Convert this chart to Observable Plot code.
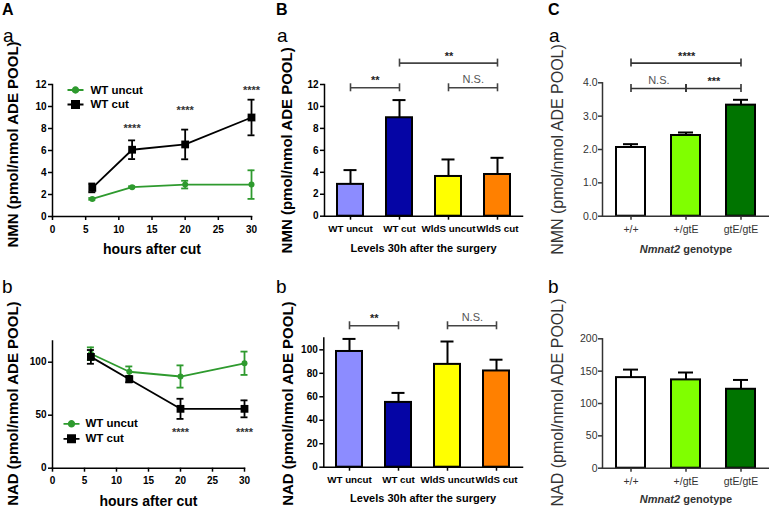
<!DOCTYPE html>
<html><head><meta charset="utf-8">
<script src="https://cdn.jsdelivr.net/npm/d3@7"></script>
<script src="https://cdn.jsdelivr.net/npm/@observablehq/plot@0.6"></script>
<style>
html,body{margin:0;padding:0;background:#fff;}
#fig{position:relative;width:769px;height:508px;overflow:hidden;background:#fff;}
#fig svg{position:absolute;overflow:visible;background:transparent;}
</style></head>
<body><div id="fig"></div>
<script>
// ---------------- DATA ----------------
const seriesNames = ["WT uncut", "WT cut"];
const hours = [6, 12, 20, 30];
const nmnUncut = [1.6, 2.67, 2.9, 2.9];
const nmnUncutErr = [0.08, 0.08, 0.35, 1.3];
const nmnCut = [2.6, 6.07, 6.55, 9.0];
const nmnCutErr = [0.4, 0.85, 1.35, 1.62];
const nadUncut = [108, 91, 86.5, 99];
const nadUncutErr = [6, 5, 10.5, 11];
const nadCut = [105, 84, 56, 56];
const nadCutErr = [6.5, 3, 9.5, 8];
const hourTicks = [0, 5, 10, 15, 20, 25, 30];
const nmnTicksA = [0, 2, 4, 6, 8, 10, 12];
const nadTicksA = [0, 50, 100];
const starHoursNmn = [12, 20, 30];
const starValuesNmn = [8.0, 9.6, 11.5];
const starHoursNad = [20, 30];
const starValuesNad = [34, 34];
const starLabel = "****";

const groupsB = ["WT uncut", "WT cut", "WldS uncut", "WldS cut"];
const nmnB = [2.9, 8.97, 3.62, 3.8];
const nmnBErr = [1.3, 1.61, 1.55, 1.52];
const nadB = [98.6, 55.2, 87.6, 82];
const nadBErr = [10.7, 8.1, 19.5, 9.6];
const nmnTicksB = [0, 2, 4, 6, 8, 10, 12];
const nadTicksB = [0, 20, 40, 60, 80, 100];
const bracketsNmnB = [
  {a: "WT uncut", b: "WT cut", y: 11.7, label: "**"},
  {a: "WT cut", b: "WldS cut", y: 13.95, label: "**"},
  {a: "WldS uncut", b: "WldS cut", y: 11.7, label: "N.S."}
];
const bracketsNadB = [
  {a: "WT uncut", b: "WT cut", y: 120.5, label: "**"},
  {a: "WldS uncut", b: "WldS cut", y: 120.5, label: "N.S."}
];

const genotypes = ["+/+", "+/gtE", "gtE/gtE"];
const nmnC = [2.06, 2.42, 3.33];
const nmnCErr = [0.1, 0.09, 0.16];
const nadC = [140, 136.5, 122];
const nadCErr = [12.4, 11.4, 14.4];
const nmnTicksC = [0, 1, 2, 3, 4];
const nadTicksC = [0, 50, 100, 150, 200];
const bracketsNmnC = [
  {a: "+/+", b: "gtE/gtE", y: 4.59, label: "****"},
  {a: "+/+", b: "+/gtE", y: 3.83, label: "N.S."},
  {a: "+/gtE", b: "gtE/gtE", y: 3.83, label: "***"}
];
const bracketsNadC = [];

const yTitleNMN = "NMN (pmol/nmol ADE POOL)";
const yTitleNAD = "NAD (pmol/nmol ADE POOL)";
const xTitleA = "hours after cut";
const xTitleB = "Levels 30h after the surgery";
const xTitleCgene = "Nmnat2";
const xTitleCrest = "genotype";
const panelLetters = ["A", "B", "C"];
const subLetters = ["a", "b"];

// ---------------- STYLE ----------------
const FONT = '"Liberation Sans", Arial, Helvetica, sans-serif';
const GREEN = "#2e9a2e";
const BLACK = "#000";
const paletteB = ["#8c8cff", "#0505a5", "#ffff00", "#ff8000"];
const paletteC = ["#ffffff", "#80ff00", "#007400"];
const fig = document.getElementById("fig");

function place(el, left, top) {
  el.style.position = "absolute";
  el.style.left = left + "px";
  el.style.top = top + "px";
  el.style.overflow = "visible";
  el.style.background = "transparent";
  el.style.maxWidth = "none";
  fig.appendChild(el);
}

const lineCircle = {draw(ctx) { ctx.moveTo(-8, 0); ctx.lineTo(8, 0); ctx.moveTo(2.8, 0); ctx.arc(0, 0, 2.8, 0, 2 * Math.PI); ctx.closePath(); }};
const lineSquare = {draw(ctx) { ctx.moveTo(-8, 0); ctx.lineTo(8, 0); ctx.moveTo(-3.6, -3.6); ctx.lineTo(3.6, -3.6); ctx.lineTo(3.6, 3.6); ctx.lineTo(-3.6, 3.6); ctx.closePath(); }};

const yTitleMark = (t, dx, dy, size) =>
  Plot.text([t], {text: d => d, frameAnchor: "left", textAnchor: "middle", lineAnchor: "middle", rotate: -90, dx, dy, fontSize: size});

// ---------------- LINE PANELS (A) ----------------
function linePanel(o) {
  const rows = (vals, errs, s) => hours.map((h, i) => ({s, h, v: vals[i], e: errs[i]}));
  const un = rows(o.uncut, o.uncutErr, seriesNames[0]);
  const cu = rows(o.cut, o.cutErr, seriesNames[1]);
  const stars = o.starX.map((h, i) => ({h, y: o.starY[i]}));
  const errMarks = (d, c) => [
    Plot.ruleX(d, {x: "h", y1: r => r.v - r.e, y2: r => r.v + r.e, stroke: c, strokeWidth: 1.8}),
    Plot.ruleY(d, {y: r => r.v + r.e, x1: "h", x2: "h", insetLeft: -3.5, insetRight: -3.5, stroke: c, strokeWidth: 1.8}),
    Plot.ruleY(d, {y: r => r.v - r.e, x1: "h", x2: "h", insetLeft: -3.5, insetRight: -3.5, stroke: c, strokeWidth: 1.8})
  ];
  return Plot.plot({
    width: 260, height: 254,
    marginLeft: 52, marginRight: o.marginRight, marginTop: o.marginTop, marginBottom: o.marginBottom,
    style: {fontFamily: FONT, fontSize: "10px", fontWeight: "bold", color: "#000", background: "transparent", overflow: "visible"},
    x: {domain: [0, 30]},
    y: {domain: o.yDomain},
    marks: [
      Plot.frame({anchor: "left", strokeWidth: 1.5}),
      Plot.frame({anchor: "bottom", strokeWidth: 1.5}),
      Plot.axisX({ticks: hourTicks, tickSize: 4, tickPadding: 5, strokeWidth: 1.5, label: null}),
      Plot.axisY({ticks: o.yTicks, tickSize: 4, tickPadding: 2, strokeWidth: 1.5, label: null}),
      Plot.line(un, {x: "h", y: "v", stroke: GREEN, strokeWidth: 1.8}),
      ...errMarks(un, GREEN),
      Plot.dot(un, {x: "h", y: "v", r: 3, fill: GREEN}),
      Plot.line(cu, {x: "h", y: "v", stroke: BLACK, strokeWidth: 1.8}),
      ...errMarks(cu, BLACK),
      Plot.dot(cu, {x: "h", y: "v", symbol: "square", r: 4.4, fill: BLACK}),
      Plot.text(stars, {x: "h", y: "y", text: () => starLabel, fontSize: 11, fill: "#333"}),
      Plot.dot([seriesNames[0]], {frameAnchor: o.lgAnchor, dx: o.lgDx, dy: o.lgDy[0], symbol: lineCircle, fill: GREEN, stroke: GREEN, strokeWidth: 1.8}),
      Plot.dot([seriesNames[1]], {frameAnchor: o.lgAnchor, dx: o.lgDx, dy: o.lgDy[1], symbol: lineSquare, fill: BLACK, stroke: BLACK, strokeWidth: 1.8}),
      Plot.text([seriesNames[0]], {text: d => d, frameAnchor: o.lgAnchor, dx: o.lgTextDx, dy: o.lgDy[0], textAnchor: "start", lineAnchor: "middle", fontSize: 11.5}),
      Plot.text([seriesNames[1]], {text: d => d, frameAnchor: o.lgAnchor, dx: o.lgTextDx, dy: o.lgDy[1], textAnchor: "start", lineAnchor: "middle", fontSize: 11.5}),
      yTitleMark(o.yTitle, -39, o.yTitleDy, 15),
      Plot.text([xTitleA], {text: d => d, frameAnchor: "bottom", textAnchor: "middle", lineAnchor: "middle", dy: 33, fontSize: 14})
    ]
  });
}

place(linePanel({
  uncut: nmnUncut, uncutErr: nmnUncutErr, cut: nmnCut, cutErr: nmnCutErr,
  yDomain: [0, 12], yTicks: nmnTicksA, starX: starHoursNmn, starY: starValuesNmn,
  marginRight: 9, marginTop: 84, marginBottom: 38,
  lgAnchor: "top-left", lgDx: 23, lgDy: [5.5, 20], lgTextDx: 38,
  yTitle: yTitleNMN, yTitleDy: -6
}), 0, 0);

place(linePanel({
  uncut: nadUncut, uncutErr: nadUncutErr, cut: nadCut, cutErr: nadCutErr,
  yDomain: [0, 120], yTicks: nadTicksA, starX: starHoursNad, starY: starValuesNad,
  marginRight: 16, marginTop: 86.5, marginBottom: 40.3,
  lgAnchor: "bottom-left", lgDx: 19, lgDy: [-44.4, -29.4], lgTextDx: 33,
  yTitle: yTitleNAD, yTitleDy: -1
}), 0, 254);

// ---------------- BAR PANELS (B, C) ----------------
function barPanel(o) {
  const data = o.groups.map((g, i) => ({g, v: o.values[i], e: o.errs[i]}));
  const xOpts = {type: "band", domain: o.groups, paddingInner: o.pad, paddingOuter: o.pad / 2, align: 0.5};
  const sx = Plot.scale({x: {...xOpts, range: [o.marginLeft, o.width - o.marginRight]}});
  const bracketMarks = o.brackets.length ? [
    Plot.link(o.brackets, {x1: "a", x2: "b", y1: "y", y2: "y", stroke: o.bracketColor, strokeWidth: 1.6}),
    Plot.ruleX(o.brackets, {x: "a", y1: "y", y2: "y", insetTop: -4, insetBottom: -4, stroke: o.bracketColor, strokeWidth: 1.6}),
    Plot.ruleX(o.brackets, {x: "b", y1: "y", y2: "y", insetTop: -4, insetBottom: -4, stroke: o.bracketColor, strokeWidth: 1.6}),
    ...o.brackets.map(d => Plot.text([d], {
      x: "a", y: "y", text: "label", textAnchor: "middle", lineAnchor: "middle",
      dx: (sx.apply(d.b) - sx.apply(d.a)) / 2, dy: d.label === "N.S." ? -8 : -7,
      fontSize: 11,
      fontWeight: d.label === "N.S." ? "normal" : "bold",
      fill: d.label === "N.S." ? "#555" : "#222"
    }))
  ] : [];
  return Plot.plot({
    width: o.width, height: 254,
    marginLeft: o.marginLeft, marginRight: o.marginRight, marginTop: o.marginTop, marginBottom: o.marginBottom,
    style: {fontFamily: FONT, fontSize: o.tickFont + "px", fontWeight: o.bold ? "bold" : "normal", color: o.ink, background: "transparent", overflow: "visible"},
    x: xOpts,
    y: {domain: o.yDomain},
    color: {domain: o.groups, range: o.palette},
    marks: [
      Plot.barY(data, {x: "g", y: "v", fill: "g", stroke: "#000", strokeWidth: 2}),
      Plot.ruleX(data, {x: "g", y1: "v", y2: d => d.v + d.e, stroke: "#000", strokeWidth: 2}),
      Plot.tickY(data, {x: "g", y: d => d.v + d.e, insetLeft: o.capInset, insetRight: o.capInset, stroke: "#000", strokeWidth: 2}),
      Plot.frame({anchor: "left", strokeWidth: 1.5}),
      Plot.frame({anchor: "bottom", strokeWidth: 1.5}),
      Plot.axisX({tickSize: 4, tickPadding: 5, strokeWidth: 1.5, label: null, fontSize: o.xTickFont}),
      Plot.axisY({ticks: o.yTicks, tickSize: 4, tickPadding: o.yPad, strokeWidth: 1.5, label: null, tickFormat: o.yFormat}),
      ...bracketMarks,
      yTitleMark(o.yTitle, o.yTitleDx, o.yTitleDy, o.yTitleSize),
      ...o.xTitleMarks
    ]
  });
}

const xTitleBMarks = dy => [Plot.text([xTitleB], {text: d => d, frameAnchor: "bottom", textAnchor: "middle", lineAnchor: "middle", dy, fontSize: 11, fontWeight: "bold"})];
const xTitleCMarks = dy => [
  Plot.text([xTitleCgene], {text: d => d, frameAnchor: "bottom", lineAnchor: "middle", dy, dx: -5.9, textAnchor: "end", fontSize: 11, fontWeight: "bold", fontStyle: "italic"}),
  Plot.text([xTitleCrest], {text: d => d, frameAnchor: "bottom", lineAnchor: "middle", dy, dx: -2.8, textAnchor: "start", fontSize: 11, fontWeight: "bold"})
];

place(barPanel({
  groups: groupsB, values: nmnB, errs: nmnBErr, palette: paletteB, pad: 0.475,
  yDomain: [0, 12], yTicks: nmnTicksB, brackets: bracketsNmnB, bracketColor: "#444",
  width: 268, marginLeft: 62, marginRight: 8, marginTop: 84, marginBottom: 38.3,
  capInset: 6.5, tickFont: 10, xTickFont: 9.8, bold: true, ink: "#000", yPad: 2,
  yTitle: yTitleNMN, yTitleDx: -37, yTitleDy: 0, yTitleSize: 15,
  xTitleMarks: xTitleBMarks(32.6)
}), 262, 0);

place(barPanel({
  groups: groupsB, values: nadB, errs: nadBErr, palette: paletteB, pad: 0.475,
  yDomain: [0, 110], yTicks: nadTicksB, brackets: bracketsNadB, bracketColor: "#444",
  width: 268, marginLeft: 61.3, marginRight: 8, marginTop: 83.6, marginBottom: 41.3,
  capInset: 6.5, tickFont: 10, xTickFont: 9.8, bold: true, ink: "#000", yPad: 2,
  yTitle: yTitleNAD, yTitleDx: -36, yTitleDy: 1, yTitleSize: 15,
  xTitleMarks: xTitleBMarks(31.6)
}), 262, 254);

place(barPanel({
  groups: genotypes, values: nmnC, errs: nmnCErr, palette: paletteC, pad: 0.48,
  yDomain: [0, 4], yTicks: nmnTicksC, yFormat: ".1f", brackets: bracketsNmnC, bracketColor: "#333",
  width: 239, marginLeft: 72, marginRight: 0, marginTop: 82.3, marginBottom: 38.3,
  capInset: 7, tickFont: 10.5, xTickFont: 10.5, bold: false, ink: "#333", yPad: 1,
  yTitle: yTitleNMN, yTitleDx: -45, yTitleDy: 0, yTitleSize: 16,
  xTitleMarks: xTitleCMarks(33.6)
}), 530, 0);

place(barPanel({
  groups: genotypes, values: nadC, errs: nadCErr, palette: paletteC, pad: 0.48,
  yDomain: [0, 200], yTicks: nadTicksC, brackets: bracketsNadC, bracketColor: "#333",
  width: 239, marginLeft: 72, marginRight: 0, marginTop: 84.3, marginBottom: 40.3,
  capInset: 7, tickFont: 10.5, xTickFont: 10.5, bold: false, ink: "#333", yPad: 1,
  yTitle: yTitleNAD, yTitleDx: -45, yTitleDy: -1, yTitleSize: 16,
  xTitleMarks: xTitleCMarks(31.6)
}), 530, 254);

// ---------------- PANEL LETTERS ----------------
const overlay = d3.create("svg").attr("width", 769).attr("height", 508)
  .style("position", "absolute").style("left", "0px").style("top", "0px").style("pointer-events", "none")
  .attr("font-family", FONT);
const colLeft = [2, 276, 548];
panelLetters.forEach((L, i) => {
  overlay.append("text").attr("x", colLeft[i]).attr("y", 15).attr("font-size", 16).attr("font-weight", "bold").text(L);
  overlay.append("text").attr("x", colLeft[i] + 1).attr("y", 41.5).attr("font-size", 19).text(subLetters[0]);
  overlay.append("text").attr("x", colLeft[i]).attr("y", 293).attr("font-size", 19).text(subLetters[1]);
});
fig.appendChild(overlay.node());
</script>
</body></html>
